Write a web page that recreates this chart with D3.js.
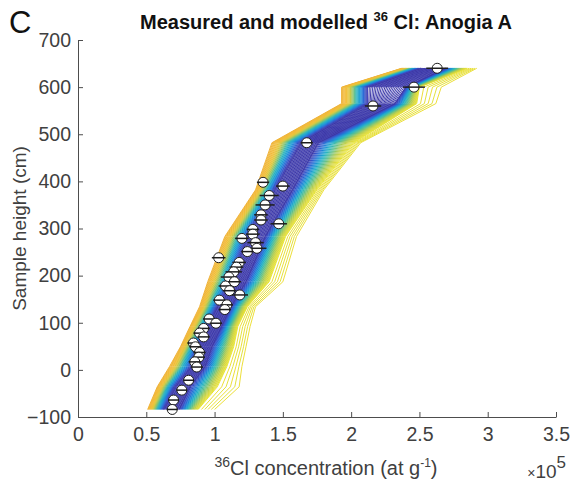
<!DOCTYPE html>
<html>
<head>
<meta charset="utf-8">
<script src="https://cdn.jsdelivr.net/npm/d3@7"></script>
<style>
  body { margin: 0; background: #fff; }
  svg { display: block; font-family: "Liberation Sans", Arial, sans-serif; }
</style>
</head>
<body>
<div id="chart"></div>
<script>
// measured samples: height (cm), 36Cl (x1e5 at/g), uncertainty (x1e5)
const sampleHeight = [640, 600, 560, 482, 398, 390, 370, 350, 329, 318,
  310, 298, 288, 279, 270, 258, 251, 238, 228, 218,
  208, 197, 187, 178, 168, 159, 148, 138, 128, 108,
  99, 88, 78, 70, 57, 49, 37, 27, 17, 6,
  -22, -43, -64, -84];
const sampleConc = [2.63, 2.46, 2.16, 1.675, 1.355, 1.50, 1.40, 1.37, 1.34, 1.34,
  1.47, 1.28, 1.28, 1.20, 1.30, 1.31, 1.24, 1.03, 1.18, 1.16,
  1.14, 1.105, 1.145, 1.08, 1.11, 1.185, 1.035, 1.09, 1.075, 0.96,
  1.01, 0.92, 0.89, 0.92, 0.845, 0.86, 0.89, 0.885, 0.855, 0.87,
  0.81, 0.76, 0.70, 0.69];
const sampleErr = [0.08, 0.08, 0.06, 0.045, 0.045, 0.05, 0.07, 0.07, 0.05, 0.05,
  0.06, 0.045, 0.05, 0.05, 0.06, 0.07, 0.045, 0.05, 0.05, 0.05,
  0.06, 0.06, 0.05, 0.05, 0.05, 0.06, 0.045, 0.045, 0.045, 0.045,
  0.045, 0.045, 0.045, 0.045, 0.045, 0.045, 0.045, 0.045, 0.045, 0.045,
  0.04, 0.04, 0.04, 0.04];

// spread of the modelled profiles, read at these heights
const modelHeight = [-84, -36, 7, 49, 92, 134, 187, 283, 382, 482, 565, 600, 640];
const outerLeft  = [0.51, 0.58, 0.67, 0.75, 0.82, 0.89, 0.95, 1.075, 1.30, 1.42, 1.93, 1.93, 2.37];
const coreLeft   = [0.63, 0.71, 0.83, 0.88, 0.95, 1.02, 1.12, 1.24, 1.44, 1.63, 2.12, 2.12, 2.51];
const coreRight  = [0.74, 0.82, 0.93, 0.98, 1.05, 1.12, 1.23, 1.37, 1.57, 1.76, 2.32, 2.40, 2.69];
const outerRight = [0.88, 1.02, 1.09, 1.14, 1.17, 1.24, 1.40, 1.52, 1.75, 2.02, 2.48, 2.50, 2.85];
// sparse, worst-fitting profiles beyond the right edge
const farRight   = [1.00, 1.18, 1.20, 1.23, 1.26, 1.30, 1.50, 1.60, 1.80, 2.07, 2.62, 2.66, 2.92];

const xTicks = [0, 0.5, 1, 1.5, 2, 2.5, 3, 3.5];
const yTicks = [-100, 0, 100, 200, 300, 400, 500, 600, 700];

const width = 577, height = 484;
const svg = d3.select('#chart').append('svg')
  .attr('width', width)
  .attr('height', height);

const x = d3.scaleLinear().domain([0, 3.5]).range([78, 556]);
const y = d3.scaleLinear().domain([-100, 700]).range([417, 40]);

// parula-ish colours, outer edge (0) -> core (1)
const leftColour = d3.scaleLinear()
  .domain([0, 0.2, 0.32, 0.45, 0.58, 0.72, 0.84, 0.93, 1])
  .range(['#f0b33a', '#f2bf38', '#d9c93e', '#86c56f', '#2cb6bd', '#1a98d8', '#2a6ad8', '#3a4cc0', '#3f3cab'])
  .interpolate(d3.interpolateRgb);
const rightColour = d3.scaleLinear()
  .domain([0, 0.15, 0.3, 0.45, 0.6, 0.74, 0.87, 0.95, 1])
  .range(['#eae63a', '#d9d83f', '#a9cb55', '#5dc08d', '#23b3c4', '#1a8ad8', '#2f5cd0', '#3a46bd', '#3f3cab'])
  .interpolate(d3.interpolateRgb);

const line = d3.line().x(d => x(d[0])).y(d => y(d[1]));
const models = svg.append('g').attr('fill', 'none').attr('stroke-width', 1);

const between = (a, b, t) => modelHeight.map((h, k) => [a[k] + t * (b[k] - a[k]), h]);

const nFar = 5;
for (let i = 0; i < nFar; i++) {
  models.append('path')
    .attr('d', line(between(farRight, outerRight, i / nFar)))
    .attr('stroke', i % 2 ? '#e3e23e' : '#eddf3a');
}

const nSide = 32;
for (let i = 0; i <= nSide; i++) {
  const t = i / nSide;
  models.append('path')
    .attr('d', line(between(outerLeft, coreLeft, t)))
    .attr('stroke', leftColour(t));
  models.append('path')
    .attr('d', line(between(outerRight, coreRight, t)))
    .attr('stroke', rightColour(t));
}
const nCore = 22;
for (let i = 0; i <= nCore; i++) {
  models.append('path')
    .attr('d', line(between(coreLeft, coreRight, i / nCore)))
    .attr('stroke', i % 3 === 0 ? '#4848bb' : '#3d38a5');
}

// axes (MATLAB style, ticks inside)
const axisColour = '#4d4d4d';
const gx = svg.append('g')
  .attr('transform', `translate(0,${y(-100)})`)
  .call(d3.axisBottom(x).tickValues(xTicks).tickFormat(d => String(d))
    .tickSizeInner(-5).tickSizeOuter(0).tickPadding(10));
const gy = svg.append('g')
  .attr('transform', `translate(${x(0)},0)`)
  .call(d3.axisLeft(y).tickValues(yTicks).tickSizeInner(-5).tickSizeOuter(0).tickPadding(7));
[gx, gy].forEach(g => {
  g.selectAll('path, line').attr('stroke', axisColour);
  g.selectAll('text').attr('fill', '#404040').style('font-size', '19.5px')
    .style('font-family', '"Liberation Sans", Arial, sans-serif');
});

// measured points
const pts = svg.append('g');
sampleHeight.forEach((h, i) => {
  const cx = x(sampleConc[i]), cy = y(h);
  pts.append('circle')
    .attr('cx', cx).attr('cy', cy).attr('r', 5)
    .attr('fill', '#fff').attr('stroke', '#1e1e1e').attr('stroke-width', 1);
  pts.append('line')
    .attr('x1', x(sampleConc[i] - sampleErr[i])).attr('x2', x(sampleConc[i] + sampleErr[i]))
    .attr('y1', cy).attr('y2', cy)
    .attr('stroke', '#1e1e1e').attr('stroke-width', 1.5);
});

// title and labels
const title = svg.append('text')
  .attr('x', 326).attr('y', 29)
  .attr('text-anchor', 'middle')
  .style('font-size', '20px').style('font-weight', 'bold')
  .attr('fill', '#111');
title.append('tspan').text('Measured and modelled ');
title.append('tspan').attr('dy', -8).style('font-size', '13px').text('36');
title.append('tspan').attr('dy', 8).text(' Cl: Anogia A');

svg.append('text')
  .attr('x', 9).attr('y', 33)
  .style('font-size', '31px')
  .attr('fill', '#111')
  .text('C');

svg.append('text')
  .attr('transform', `translate(26,${(y(-100) + y(700)) / 2}) rotate(-90)`)
  .attr('text-anchor', 'middle')
  .style('font-size', '19px')
  .attr('fill', '#404040')
  .text('Sample height (cm)');

const xl = svg.append('text')
  .attr('x', 326).attr('y', 475)
  .attr('text-anchor', 'middle')
  .style('font-size', '20px')
  .attr('fill', '#404040');
xl.append('tspan').attr('dy', -8).style('font-size', '14px').text('36');
xl.append('tspan').attr('dy', 8).text('Cl concentration (at g');
xl.append('tspan').attr('dy', -8).style('font-size', '12px').text('-1');
xl.append('tspan').attr('dy', 8).text(')');

const mult = svg.append('text')
  .attr('x', 566).attr('y', 478)
  .attr('text-anchor', 'end')
  .style('font-size', '19px')
  .attr('fill', '#404040');
mult.append('tspan').style('font-size', '14px').text('×');
mult.append('tspan').text('10');
mult.append('tspan').attr('dy', -10).style('font-size', '17px').text('5');
</script>
</body>
</html>
